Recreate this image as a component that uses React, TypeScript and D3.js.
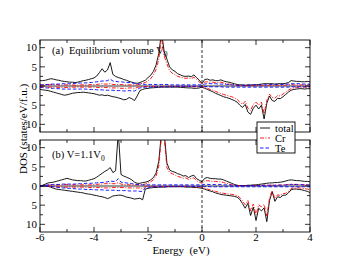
import * as d3 from 'd3'

// energy grid (eV)
const energy = [
  -6.0, -5.9, -5.8, -5.7, -5.6, -5.5, -5.4, -5.3, -5.2, -5.1,
  -5.0, -4.9, -4.8, -4.7, -4.6, -4.5, -4.4, -4.3, -4.2, -4.1,
  -4.0, -3.9, -3.8, -3.7, -3.6, -3.5, -3.4, -3.3, -3.2, -3.1,
  -3.0, -2.9, -2.8, -2.7, -2.6, -2.5, -2.4, -2.3, -2.2, -2.1,
  -2.0, -1.9, -1.8, -1.7, -1.6, -1.5, -1.4, -1.3, -1.2, -1.1,
  -1.0, -0.9, -0.8, -0.7, -0.6, -0.5, -0.4, -0.3, -0.2, -0.1,
  0.0, 0.1, 0.2, 0.3, 0.4, 0.5, 0.6, 0.7, 0.8, 0.9,
  1.0, 1.1, 1.2, 1.3, 1.4, 1.5, 1.6, 1.7, 1.8, 1.9,
  2.0, 2.1, 2.2, 2.3, 2.4, 2.5, 2.6, 2.7, 2.8, 2.9,
  3.0, 3.1, 3.2, 3.3, 3.4, 3.5, 3.6, 3.7, 3.8, 3.9,
  4.0,
]

// (a) equilibrium volume -- spin down stored as magnitudes
const aTotalUp = [
  1.4, 1.4, 1.5, 1.7, 1.9, 1.8, 1.6, 1.5, 1.3, 1.2,
  1.1, 1.0, 1.0, 0.9, 1.0, 1.2, 1.4, 1.5, 1.7, 1.9,
  2.1, 2.6, 3.5, 4.5, 3.6, 4.2, 6.1, 3.0, 2.5, 2.2,
  2.0, 1.7, 1.5, 1.2, 1.0, 0.8, 0.7, 0.9, 1.2, 1.5,
  2.2, 2.8, 3.8, 5.5, 8.5, 14, 9.0, 7.0, 5.0, 4.2,
  3.8, 3.2, 2.9, 2.6, 2.5, 2.6, 2.4, 2.9, 2.2, 1.5,
  0.6, 1.7, 1.8, 1.5, 1.6, 1.4, 1.4, 1.6, 1.3, 1.1,
  1.0, 0.8, 0.6, 0.4, 0.3, 0.3, 0.2, 0.3, 0.3, 0.3,
  0.3, 0.4, 0.5, 0.6, 0.6, 0.6, 0.6, 0.5, 0.6, 0.6,
  0.6, 0.7, 0.9, 1.4, 1.3, 1.2, 1.2, 1.1, 1.1, 1.2,
  1.1,
]
const aTotalDown = [
  0.9, 1.0, 1.1, 1.2, 1.4, 1.6, 1.8, 2.0, 2.2, 2.4,
  2.3, 2.1, 1.9, 1.8, 1.7, 1.7, 1.6, 1.7, 1.8, 1.9,
  2.0, 2.2, 2.4, 2.3, 2.5, 2.4, 2.6, 2.8, 2.9, 3.1,
  3.3, 3.6, 3.5, 3.0, 3.3, 3.8, 2.6, 1.2, 0.9, 0.7,
  0.6, 0.5, 0.45, 0.4, 0.35, 0.3, 0.3, 0.3, 0.3, 0.3,
  0.3, 0.3, 0.35, 0.4, 0.45, 0.5, 0.5, 0.6, 0.6, 0.5,
  0.3, 0.6, 0.9, 1.2, 1.5, 1.9, 2.2, 2.5, 2.8, 3.0,
  3.2, 3.5, 3.8, 4.2, 5.0, 5.6, 4.8, 6.8, 7.4, 5.8,
  5.0, 6.0, 5.0, 8.6, 4.5, 2.6, 3.8, 4.0, 3.2, 3.3,
  2.8, 2.2, 1.6, 1.1, 0.9, 0.8, 0.7, 0.7, 0.8, 0.7,
  0.7,
]
const aCrUp = [
  0.3, 0.3, 0.3, 0.3, 0.4, 0.4, 0.4, 0.3, 0.3, 0.3,
  0.3, 0.3, 0.3, 0.2, 0.2, 0.3, 0.3, 0.3, 0.3, 0.4,
  0.4, 0.4, 0.5, 0.6, 0.5, 0.5, 0.6, 0.4, 0.4, 0.4,
  0.4, 0.3, 0.3, 0.3, 0.3, 0.3, 0.3, 0.5, 0.7, 0.9,
  1.4, 1.9, 2.9, 4.3, 7.0, 12.8, 7.8, 5.8, 4.0, 3.3,
  3.0, 2.5, 2.3, 2.1, 2.0, 2.1, 1.9, 2.3, 1.7, 1.1,
  0.4, 1.0, 1.1, 1.0, 1.0, 0.9, 0.9, 1.0, 0.8, 0.6,
  0.5, 0.4, 0.3, 0.2, 0.1, 0.1, 0.1, 0.1, 0.1, 0.1,
  0.1, 0.1, 0.2, 0.2, 0.2, 0.2, 0.2, 0.2, 0.2, 0.2,
  0.2, 0.2, 0.3, 0.4, 0.3, 0.3, 0.3, 0.3, 0.3, 0.3,
  0.3,
]
const aCrDown = [
  0.2, 0.2, 0.2, 0.3, 0.3, 0.3, 0.3, 0.4, 0.4, 0.4,
  0.4, 0.4, 0.3, 0.3, 0.3, 0.3, 0.3, 0.3, 0.3, 0.3,
  0.3, 0.4, 0.4, 0.4, 0.4, 0.4, 0.5, 0.5, 0.5, 0.5,
  0.6, 0.6, 0.6, 0.5, 0.5, 0.6, 0.4, 0.2, 0.2, 0.1,
  0.1, 0.1, 0.1, 0.1, 0.1, 0.1, 0.1, 0.1, 0.1, 0.1,
  0.1, 0.1, 0.1, 0.1, 0.1, 0.1, 0.1, 0.2, 0.2, 0.2,
  0.1, 0.4, 0.6, 0.9, 1.1, 1.4, 1.7, 2.0, 2.2, 2.4,
  2.6, 2.8, 3.1, 3.5, 4.2, 4.8, 4.0, 5.8, 6.4, 4.8,
  4.2, 5.0, 4.2, 7.2, 3.8, 2.1, 3.0, 3.2, 2.5, 2.6,
  2.1, 1.6, 1.1, 0.7, 0.5, 0.4, 0.3, 0.3, 0.3, 0.3,
  0.3,
]
const aTeUp = [
  0.3, 0.3, 0.4, 0.4, 0.5, 0.5, 0.5, 0.5, 0.6, 0.6,
  0.6, 0.6, 0.6, 0.7, 0.7, 0.8, 0.8, 0.8, 0.9, 0.9,
  1.0, 1.1, 1.2, 1.3, 1.3, 1.4, 1.8, 1.3, 1.2, 1.1,
  1.1, 1.0, 0.9, 0.9, 0.8, 0.7, 0.6, 0.5, 0.5, 0.4,
  0.4, 0.4, 0.4, 0.4, 0.4, 0.4, 0.4, 0.4, 0.3, 0.3,
  0.3, 0.3, 0.3, 0.3, 0.3, 0.3, 0.3, 0.3, 0.3, 0.3,
  0.3, 0.5, 0.6, 0.6, 0.6, 0.6, 0.5, 0.5, 0.5, 0.4,
  0.4, 0.3, 0.3, 0.2, 0.2, 0.2, 0.2, 0.2, 0.2, 0.3,
  0.3, 0.3, 0.3, 0.3, 0.3, 0.4, 0.4, 0.4, 0.4, 0.4,
  0.4, 0.5, 0.5, 0.6, 0.6, 0.6, 0.6, 0.5, 0.5, 0.5,
  0.5,
]
const aTeDown = [
  0.4, 0.4, 0.5, 0.5, 0.6, 0.6, 0.7, 0.7, 0.8, 0.8,
  0.8, 0.8, 0.8, 0.8, 0.8, 0.8, 0.8, 0.8, 0.9, 0.9,
  0.9, 1.0, 1.0, 1.0, 1.1, 1.1, 1.1, 1.1, 1.2, 1.2,
  1.2, 1.3, 1.3, 1.2, 1.3, 1.3, 0.9, 0.5, 0.4, 0.3,
  0.3, 0.3, 0.2, 0.2, 0.2, 0.2, 0.2, 0.2, 0.2, 0.2,
  0.1, 0.1, 0.1, 0.1, 0.1, 0.1, 0.1, 0.1, 0.1, 0.1,
  0.1, 0.1, 0.2, 0.2, 0.2, 0.2, 0.2, 0.2, 0.3, 0.3,
  0.3, 0.3, 0.3, 0.3, 0.3, 0.3, 0.3, 0.3, 0.3, 0.3,
  0.3, 0.3, 0.3, 0.3, 0.3, 0.3, 0.3, 0.3, 0.3, 0.3,
  0.3, 0.3, 0.3, 0.2, 0.2, 0.2, 0.2, 0.2, 0.2, 0.2,
  0.2,
]

// (b) V = 1.1 V0
const bTotalUp = [
  0.0, 0.2, 0.5, 0.8, 0.9, 1.0, 1.2, 1.4, 1.6, 1.8,
  2.0, 1.8, 1.6, 1.5, 1.4, 1.4, 1.3, 1.3, 1.5, 1.7,
  1.9, 2.3, 2.8, 3.3, 3.8, 4.2, 4.8, 3.5, 4.0, 14,
  3.0, 2.6, 2.3, 2.0, 1.6, 1.0, 0.7, 0.7, 0.9, 1.0,
  1.2, 1.6, 2.2, 3.4, 6.5, 14, 14, 6.0, 4.2, 3.8,
  3.6, 3.2, 3.0, 2.6, 2.7, 2.2, 2.6, 2.8, 1.9, 1.5,
  1.1, 2.0, 2.2, 2.0, 1.9, 1.9, 1.8, 1.8, 1.6, 1.3,
  1.0, 0.7, 0.4, 0.2, 0.1, 0.1, 0.1, 0.2, 0.2, 0.3,
  0.3, 0.4, 0.5, 0.6, 0.7, 0.8, 0.8, 0.9, 0.9, 1.0,
  1.1, 1.3, 1.5, 1.6, 1.5, 1.4, 1.4, 1.3, 1.2, 1.2,
  1.1,
]
const bTotalDown = [
  0.0, 0.0, 0.0, 0.1, 0.3, 0.6, 0.8, 0.9, 1.0, 1.1,
  1.2, 1.3, 1.4, 1.5, 1.6, 1.7, 1.8, 2.0, 2.1, 2.2,
  2.4, 2.5, 2.7, 2.8, 3.0, 3.3, 3.0, 2.6, 2.5, 2.4,
  2.4, 2.6, 2.9, 3.0, 3.2, 3.4, 3.3, 3.2, 3.6, 0.8,
  0.6, 0.5, 0.4, 0.4, 0.3, 0.3, 0.3, 0.2, 0.2, 0.2,
  0.2, 0.2, 0.2, 0.2, 0.3, 0.3, 0.3, 0.4, 0.4, 0.5,
  0.6, 0.8, 1.1, 1.3, 1.5, 1.8, 2.0, 2.2, 2.3, 2.4,
  2.5, 2.6, 2.7, 2.9, 3.5, 4.6, 5.8, 4.5, 7.7, 5.5,
  9.0, 5.8, 6.5, 5.7, 9.3, 3.8, 1.5, 4.0, 2.8, 3.0,
  2.4, 2.4, 1.8, 1.0, 0.8, 0.8, 0.9, 1.0, 1.2, 1.4,
  1.7,
]
const bCrUp = [
  0.0, 0.1, 0.2, 0.2, 0.3, 0.3, 0.3, 0.3, 0.3, 0.4,
  0.4, 0.4, 0.3, 0.3, 0.3, 0.3, 0.3, 0.3, 0.3, 0.3,
  0.4, 0.4, 0.5, 0.5, 0.6, 0.6, 0.7, 0.6, 0.6, 0.9,
  0.5, 0.4, 0.4, 0.3, 0.3, 0.3, 0.3, 0.3, 0.4, 0.5,
  0.8, 1.1, 1.6, 2.6, 5.2, 13, 12.5, 4.8, 3.5, 3.2,
  2.9, 2.5, 2.3, 2.0, 2.1, 1.7, 2.0, 2.1, 1.4, 1.0,
  0.7, 1.3, 1.4, 1.3, 1.2, 1.2, 1.1, 1.1, 0.9, 0.7,
  0.5, 0.3, 0.2, 0.1, 0.1, 0.1, 0.1, 0.1, 0.1, 0.1,
  0.1, 0.1, 0.2, 0.2, 0.2, 0.2, 0.2, 0.2, 0.2, 0.3,
  0.3, 0.3, 0.4, 0.5, 0.4, 0.4, 0.4, 0.4, 0.3, 0.3,
  0.3,
]
const bCrDown = [
  0.0, 0.0, 0.0, 0.0, 0.1, 0.2, 0.2, 0.2, 0.3, 0.3,
  0.3, 0.3, 0.3, 0.3, 0.3, 0.3, 0.3, 0.4, 0.4, 0.4,
  0.4, 0.4, 0.4, 0.4, 0.5, 0.5, 0.5, 0.4, 0.4, 0.4,
  0.4, 0.4, 0.5, 0.5, 0.5, 0.5, 0.5, 0.5, 0.6, 0.1,
  0.1, 0.1, 0.1, 0.1, 0.1, 0.1, 0.1, 0.1, 0.1, 0.1,
  0.1, 0.1, 0.1, 0.1, 0.1, 0.1, 0.2, 0.2, 0.2, 0.3,
  0.3, 0.5, 0.8, 1.0, 1.2, 1.4, 1.6, 1.8, 1.9, 2.0,
  2.1, 2.2, 2.3, 2.5, 3.0, 3.9, 4.9, 3.8, 6.5, 4.7,
  7.5, 4.9, 5.4, 4.8, 7.8, 3.2, 1.2, 3.3, 2.3, 2.5,
  2.0, 1.9, 1.4, 0.7, 0.5, 0.5, 0.5, 0.6, 0.7, 0.8,
  1.0,
]
const bTeUp = [
  0.0, 0.1, 0.2, 0.3, 0.3, 0.4, 0.4, 0.4, 0.5, 0.5,
  0.5, 0.5, 0.5, 0.5, 0.6, 0.6, 0.6, 0.7, 0.7, 0.7,
  0.8, 0.8, 0.9, 0.9, 1.0, 1.1, 1.3, 1.2, 1.2, 1.9,
  1.0, 0.9, 0.8, 0.7, 0.6, 0.5, 0.4, 0.3, 0.3, 0.3,
  0.3, 0.3, 0.3, 0.3, 0.3, 0.3, 0.3, 0.3, 0.3, 0.3,
  0.3, 0.3, 0.3, 0.3, 0.3, 0.3, 0.3, 0.3, 0.3, 0.3,
  0.3, 0.4, 0.4, 0.4, 0.4, 0.4, 0.4, 0.4, 0.3, 0.3,
  0.3, 0.2, 0.2, 0.1, 0.1, 0.1, 0.1, 0.1, 0.1, 0.1,
  0.1, 0.1, 0.1, 0.2, 0.2, 0.2, 0.2, 0.2, 0.2, 0.2,
  0.2, 0.3, 0.3, 0.4, 0.4, 0.4, 0.4, 0.3, 0.3, 0.3,
  0.3,
]
const bTeDown = [
  0.0, 0.0, 0.0, 0.0, 0.1, 0.2, 0.3, 0.4, 0.5, 0.5,
  0.6, 0.6, 0.7, 0.7, 0.8, 0.8, 0.8, 0.9, 0.9, 0.9,
  1.0, 1.0, 1.0, 1.0, 1.1, 1.1, 1.1, 1.1, 1.1, 1.2,
  1.2, 1.2, 1.2, 1.3, 1.3, 1.3, 1.3, 1.4, 1.4, 0.4,
  0.3, 0.3, 0.2, 0.2, 0.2, 0.2, 0.2, 0.2, 0.1, 0.1,
  0.1, 0.1, 0.1, 0.1, 0.1, 0.1, 0.1, 0.1, 0.1, 0.1,
  0.1, 0.1, 0.1, 0.2, 0.2, 0.2, 0.2, 0.2, 0.2, 0.2,
  0.2, 0.2, 0.2, 0.2, 0.2, 0.2, 0.2, 0.2, 0.2, 0.2,
  0.2, 0.2, 0.2, 0.2, 0.2, 0.2, 0.2, 0.2, 0.2, 0.2,
  0.2, 0.2, 0.2, 0.2, 0.2, 0.2, 0.2, 0.2, 0.2, 0.2,
  0.2,
]

const xMajor = [-6, -4, -2, 0, 2, 4]
const xMinor = [-5, -3, -1, 1, 3]
const yMajor = [-10, -5, 0, 5, 10]
const yMinor = [-7.5, -2.5, 2.5, 7.5]

const seriesStyle = [
  { key: 'total', label: 'total', color: '#000000', dash: undefined },
  { key: 'cr', label: 'Cr', color: '#ff0000', dash: '4 1.5 1 1.5' },
  { key: 'te', label: 'Te', color: '#0000ff', dash: '3.5 2' },
]

const W = 349
const H = 270
const left = 40
const right = 310
const font = '"Liberation Serif", "Times New Roman", serif'

function Panel({ id, top, bottom, curves, label }: {
  id: string
  top: number
  bottom: number
  curves: Record<string, { up: number[]; down: number[] }>
  label: React.ReactNode
}) {
  const x = d3.scaleLinear().domain([-6, 4]).range([left, right])
  const y = d3.scaleLinear().domain([-12, 12]).range([bottom, top])
  const lineUp = (vals: number[]) =>
    d3.line<number>().x((_, i) => x(energy[i])).y((v) => y(v))(vals) ?? ''
  const lineDown = (vals: number[]) =>
    d3.line<number>().x((_, i) => x(energy[i])).y((v) => y(-v))(vals) ?? ''

  return (
    <g>
      <defs>
        <clipPath id={`clip-${id}`}>
          <rect x={left} y={top} width={right - left} height={bottom - top} />
        </clipPath>
      </defs>
      <g clipPath={`url(#clip-${id})`}>
        <line x1={left} x2={right} y1={y(0)} y2={y(0)} stroke="#000" strokeWidth="0.8" />
        {seriesStyle.map((s) => (
          <g key={s.key} fill="none" stroke={s.color} strokeWidth="0.9" strokeDasharray={s.dash}>
            <path d={lineUp(curves[s.key].up)} />
            <path d={lineDown(curves[s.key].down)} />
          </g>
        ))}
        <line x1={x(0)} x2={x(0)} y1={top} y2={bottom} stroke="#000" strokeWidth="0.8" strokeDasharray="3 2" />
      </g>
      {/* ticks, inward on all sides */}
      {xMajor.map((t) => (
        <g key={`xM${t}`} stroke="#000" strokeWidth="0.8">
          <line x1={x(t)} x2={x(t)} y1={bottom} y2={bottom - 5} />
          <line x1={x(t)} x2={x(t)} y1={top} y2={top + 5} />
        </g>
      ))}
      {xMinor.map((t) => (
        <g key={`xm${t}`} stroke="#000" strokeWidth="0.8">
          <line x1={x(t)} x2={x(t)} y1={bottom} y2={bottom - 3} />
          <line x1={x(t)} x2={x(t)} y1={top} y2={top + 3} />
        </g>
      ))}
      {yMajor.map((t) => (
        <g key={`yM${t}`}>
          <line x1={left} x2={left + 5} y1={y(t)} y2={y(t)} stroke="#000" strokeWidth="0.8" />
          <line x1={right} x2={right - 5} y1={y(t)} y2={y(t)} stroke="#000" strokeWidth="0.8" />
          <text x={left - 3} y={y(t) + 3.8} textAnchor="end" fontSize="11" fontFamily={font}>
            {Math.abs(t)}
          </text>
        </g>
      ))}
      {yMinor.map((t) => (
        <g key={`ym${t}`} stroke="#000" strokeWidth="0.8">
          <line x1={left} x2={left + 3} y1={y(t)} y2={y(t)} />
          <line x1={right} x2={right - 3} y1={y(t)} y2={y(t)} />
        </g>
      ))}
      <rect x={left} y={top} width={right - left} height={bottom - top} fill="none" stroke="#000" strokeWidth="0.9" />
      {label}
    </g>
  )
}

export default function App() {
  const x = d3.scaleLinear().domain([-6, 4]).range([left, right])
  const panelA = {
    total: { up: aTotalUp, down: aTotalDown },
    cr: { up: aCrUp, down: aCrDown },
    te: { up: aTeUp, down: aTeDown },
  }
  const panelB = {
    total: { up: bTotalUp, down: bTotalDown },
    cr: { up: bCrUp, down: bCrDown },
    te: { up: bTeUp, down: bTeDown },
  }

  return (
    <svg
      width={W}
      height={H}
      viewBox={`0 0 ${W} ${H}`}
      style={{ position: 'absolute', left: 0, top: 0, background: '#fff' }}
      fontFamily={font}
    >
      <rect width={W} height={H} fill="#fff" />
      <Panel
        id="a"
        top={40}
        bottom={132}
        curves={panelA}
        label={
          <text x={52} y={54} fontSize="10.5" style={{ whiteSpace: 'pre' }}>
            {'(a)  Equilibrium volume V'}
            <tspan fontSize="7.5" dy="3">0</tspan>
          </text>
        }
      />
      <Panel
        id="b"
        top={140}
        bottom={232}
        curves={panelB}
        label={
          <text x={52} y={158} fontSize="10.5">
            {'(b) V=1.1V'}
            <tspan fontSize="7.5" dy="3">0</tspan>
          </text>
        }
      />
      {xMajor.map((t) => (
        <text key={t} x={x(t)} y={241} textAnchor="middle" fontSize="11">
          {t < 0 ? `-${Math.abs(t)}` : t}
        </text>
      ))}
      <text x={181} y={254} textAnchor="middle" fontSize="11" style={{ whiteSpace: 'pre' }}>
        {'Energy  (eV)'}
      </text>
      <text
        transform="translate(27,129) rotate(-90)"
        textAnchor="middle"
        fontSize="11"
      >
        DOS (states/eV/f.u.)
      </text>
      {/* legend */}
      <g>
        <rect x={257} y={122} width={38} height={31} fill="#fff" stroke="#000" strokeWidth="0.9" />
        {seriesStyle.map((s, i) => (
          <g key={s.key}>
            <line
              x1={260}
              x2={270}
              y1={128 + i * 10}
              y2={128 + i * 10}
              stroke={s.color}
              strokeWidth="0.9"
              strokeDasharray={s.dash}
            />
            <text x={275} y={131.5 + i * 10} fontSize="10.5">
              {s.label}
            </text>
          </g>
        ))}
      </g>
    </svg>
  )
}
